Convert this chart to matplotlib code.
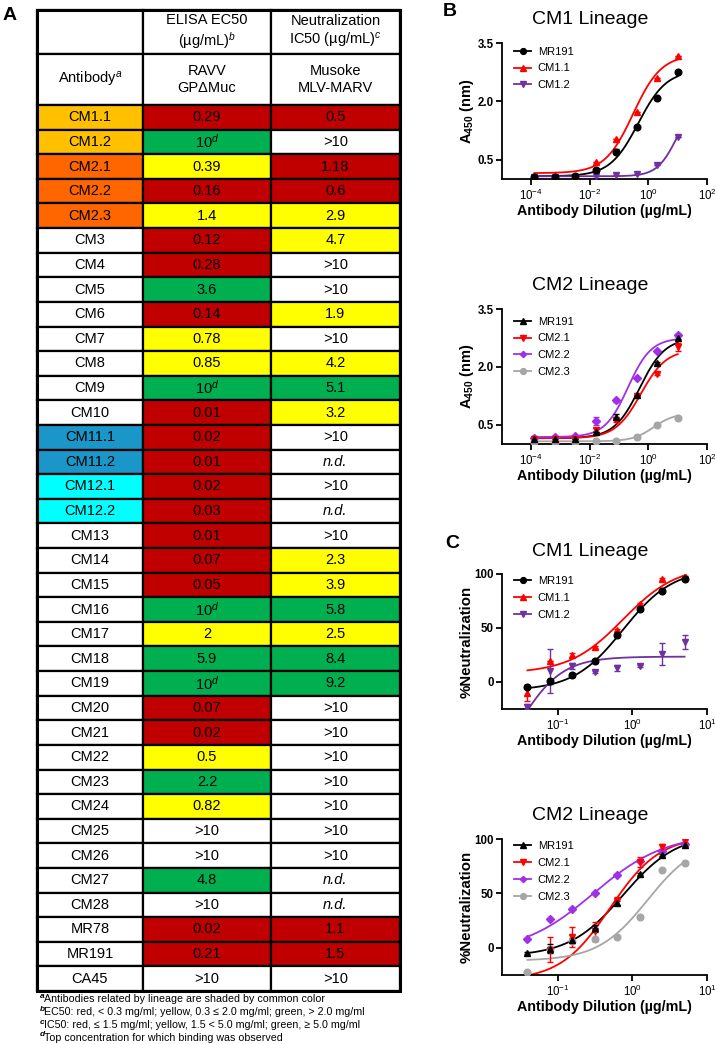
import numpy as np
import matplotlib
matplotlib.use("Agg")
import matplotlib.pyplot as plt
from matplotlib.patches import Rectangle
from matplotlib.lines import Line2D
from matplotlib.ticker import NullLocator

plt.rcParams["font.family"] = ["Liberation Sans", "DejaVu Sans"]
plt.rcParams["mathtext.fontset"] = "custom"
plt.rcParams["mathtext.rm"] = "Liberation Sans"
plt.rcParams["mathtext.it"] = "Liberation Sans:italic"
plt.rcParams["mathtext.bf"] = "Liberation Sans:bold"
plt.rcParams["mathtext.default"] = "bf"

# ---- table data (panel A) ----
names = ["CM1.1", "CM1.2", "CM2.1", "CM2.2", "CM2.3", "CM3", "CM4", "CM5", "CM6", "CM7",
         "CM8", "CM9", "CM10", "CM11.1", "CM11.2", "CM12.1", "CM12.2", "CM13", "CM14", "CM15",
         "CM16", "CM17", "CM18", "CM19", "CM20", "CM21", "CM22", "CM23", "CM24", "CM25",
         "CM26", "CM27", "CM28", "MR78", "MR191", "CA45"]
elisa_ec50 = ["0.29", "10d", "0.39", "0.16", "1.4", "0.12", "0.28", "3.6", "0.14", "0.78",
              "0.85", "10d", "0.01", "0.02", "0.01", "0.02", "0.03", "0.01", "0.07", "0.05",
              "10d", "2", "5.9", "10d", "0.07", "0.02", "0.5", "2.2", "0.82", ">10",
              ">10", "4.8", ">10", "0.02", "0.21", ">10"]
neut_ic50 = ["0.5", ">10", "1.18", "0.6", "2.9", "4.7", ">10", ">10", "1.9", ">10",
             "4.2", "5.1", "3.2", ">10", "n.d.", ">10", "n.d.", ">10", "2.3", "3.9",
             "5.8", "2.5", "8.4", "9.2", ">10", ">10", ">10", ">10", ">10", ">10",
             ">10", "n.d.", "n.d.", "1.1", "1.5", ">10"]
lineage_colors = {"CM1.": "#FFC000", "CM2.": "#FF6600", "CM11.": "#1A96C8", "CM12.": "#00FFFF"}
footnotes = [("a", "Antibodies related by lineage are shaded by common color"),
             ("b", "EC50: red, < 0.3 mg/ml; yellow, 0.3 ≤ 2.0 mg/ml; green, > 2.0 mg/ml"),
             ("c", "IC50: red, ≤ 1.5 mg/ml; yellow, 1.5 < 5.0 mg/ml; green, ≥ 5.0 mg/ml"),
             ("d", "Top concentration for which binding was observed")]

RED, YELLOW, GREEN = "#C00000", "#FFFF00", "#00B050"

# ---- dose-response data (panels B and C) ----
elisa_conc = [0.000128, 0.00064, 0.0032, 0.016, 0.08, 0.4, 2.0, 10.0]
neut_conc = [0.039, 0.078, 0.156, 0.3125, 0.625, 1.25, 2.5, 5.0]

cm1_labels = ["MR191", "CM1.1", "CM1.2"]
cm1_colors = ["black", "#FF0000", "#7030A0"]
cm1_markers = ["o", "^", "v"]
cm2_labels = ["MR191", "CM2.1", "CM2.2", "CM2.3"]
cm2_colors = ["black", "#FF0000", "#A030E8", "#A6A6A6"]
cm2_markers = ["^", "v", "D", "o"]

elisa_cm1 = [[0.05, 0.05, 0.08, 0.24, 0.70, 1.34, 2.09, 2.76],
             [0.06, 0.06, 0.09, 0.45, 1.02, 1.73, 2.59, 3.16],
             [0.05, 0.05, 0.05, 0.08, 0.11, 0.14, 0.37, 1.09]]
elisa_cm1_err = [[0, 0, 0, 0.02, 0.06, 0.03, 0.03, 0.03],
                 [0, 0, 0, 0, 0, 0, 0, 0],
                 [0, 0, 0, 0, 0, 0, 0, 0]]
elisa_cm1_fit = [(0.07, 2.8, 0.45, 0.9), (0.15, 3.2, 0.3, 0.9), (0.07, 2.0, 9.0, 1.3)]

elisa_cm2 = [[0.12, 0.12, 0.14, 0.31, 0.70, 1.28, 2.10, 2.75],
             [0.12, 0.12, 0.13, 0.37, 0.62, 1.25, 1.82, 2.52],
             [0.15, 0.17, 0.21, 0.60, 1.13, 1.71, 2.41, 2.82],
             [0.05, 0.05, 0.06, 0.07, 0.08, 0.18, 0.48, 0.68]]
elisa_cm2_err = [[0, 0, 0, 0, 0.08, 0, 0.03, 0.04],
                 [0, 0, 0, 0.05, 0.05, 0, 0.03, 0.11],
                 [0, 0, 0, 0.11, 0.03, 0, 0.03, 0.03],
                 [0, 0, 0, 0, 0, 0, 0, 0]]
elisa_cm2_fit = [(0.15, 2.75, 0.5, 1.0), (0.15, 2.45, 0.55, 1.0),
                 (0.18, 2.75, 0.2, 1.1), (0.07, 0.8, 1.5, 1.2)]

neut_cm1 = [[-4.3, 0.6, 6.4, 19.6, 43.3, 67.8, 84.7, 95.4],
            [-10.4, 19.3, 24.8, 32.5, 48.5, 72.4, 95.0, 98.0],
            [-22.7, 10.1, 14.7, 9.5, 12.9, 14.7, 26.0, 37.0]]
neut_cm1_err = [[1.5, 2, 1.5, 2, 2, 1.5, 1, 1],
                [7, 0, 2, 1, 1, 1, 1, 0],
                [2, 20, 3, 1, 3, 1, 10, 6.7]]
neut_cm1_fit = [(-8, 105, 0.75, 1.3), (8, 108, 0.75, 1.2), (-100, 23.5, 0.03, 1.5)]

neut_cm2 = [[-4.6, -0.9, 7.0, 17.8, 41.4, 67.9, 85.0, 94.8],
            [np.nan, -2.0, 10.0, 15.0, 43.0, 79.0, 93.0, 98.0],
            [7.7, 26.4, 35.6, 50.0, 66.7, 80.0, 88.7, 95.7],
            [-22.0, -1.0, 6.0, 7.7, 9.5, 28.5, 71.9, 78.0]]
neut_cm2_err = [[1, 4, 2, 3, 2, 1, 1, 1],
                [0, 11.5, 9.5, 9, 4, 4.6, 2, 1],
                [0, 0, 0, 0, 0, 0, 0, 0],
                [0, 0, 0, 0, 0, 0, 0, 0]]
neut_cm2_fit = [(-8, 105, 0.75, 1.2), (-30, 103, 0.5, 1.3),
                (-5, 105, 0.3, 0.9), (-12, 100, 1.6, 1.3)]


def logistic(x, bottom, top, ec50, hill):
    return bottom + (top - bottom) / (1 + (ec50 / x) ** hill)


def ec50_color(s):
    if s.startswith(">"):
        return "white"
    v = float(s.rstrip("d"))
    if v < 0.3:
        return RED
    if v <= 2.0:
        return YELLOW
    return GREEN


def ic50_color(s):
    if s.startswith(">") or s == "n.d.":
        return "white"
    v = float(s)
    if v <= 1.5:
        return RED
    if v < 5.0:
        return YELLOW
    return GREEN


def cell_text(s):
    if s.endswith("d"):
        return s[:-1] + r"$^{\mathit{d}}$"
    return s


W, H = 715, 1044
fig = plt.figure(figsize=(W / 100, H / 100), dpi=100)


def px_axes(l, t, r, b):
    return fig.add_axes([l / W, 1 - b / H, (r - l) / W, (b - t) / H])


# ---------------- panel A: table ----------------
col_x = [37, 143, 271, 400]
head_y = [10, 54, 105]
tab_bottom = 991
row_h = (tab_bottom - head_y[2]) / len(names)

tax = px_axes(col_x[0], head_y[0], col_x[-1], tab_bottom)
tax.set_xlim(col_x[0], col_x[-1])
tax.set_ylim(tab_bottom, head_y[0])
tax.axis("off")

fs = 10.5
lw = 1.6


def cell(ax, c, y0, y1, color, text, style="normal"):
    ax.add_patch(Rectangle((col_x[c], y0), col_x[c + 1] - col_x[c], y1 - y0,
                           facecolor=color, edgecolor="black", lw=lw, clip_on=False))
    ax.text((col_x[c] + col_x[c + 1]) / 2, (y0 + y1) / 2, text, ha="center", va="center",
            fontsize=fs, style=style, linespacing=1.25)


head1 = ["", "ELISA EC50\n(µg/mL)$^{\\mathit{b}}$", "Neutralization\nIC50 (µg/mL)$^{\\mathit{c}}$"]
head2 = ["Antibody$^{\\mathit{a}}$", "RAVV\nGPΔMuc", "Musoke\nMLV-MARV"]
for c in range(3):
    cell(tax, c, head_y[0], head_y[1], "white", head1[c])
    cell(tax, c, head_y[1], head_y[2], "white", head2[c])

for i, name in enumerate(names):
    y0 = head_y[2] + i * row_h
    y1 = y0 + row_h
    ncol = "white"
    for pre, col in lineage_colors.items():
        if name.startswith(pre):
            ncol = col
    cell(tax, 0, y0, y1, ncol, name)
    cell(tax, 1, y0, y1, ec50_color(elisa_ec50[i]), cell_text(elisa_ec50[i]))
    ic = neut_ic50[i]
    cell(tax, 2, y0, y1, ic50_color(ic), ic, style="italic" if ic == "n.d." else "normal")

tax.add_patch(Rectangle((col_x[0], head_y[0]), col_x[-1] - col_x[0], tab_bottom - head_y[0],
                        facecolor="none", edgecolor="black", lw=2.2, clip_on=False))

for k, (sup, txt) in enumerate(footnotes):
    y = 999.5 + k * 12.8
    fig.text(40 / W, 1 - (y - 3) / H, sup, fontsize=6, style="italic", weight="bold",
             ha="left", va="center")
    fig.text(44.5 / W, 1 - y / H, txt, fontsize=7.7, ha="left", va="center")

# ---------------- panels B and C ----------------
ax_l, ax_r = 502, 707


def draw_panel(t, b, conc, labels, colors, markers, vals, errs, fits, kind, title, leg_y):
    ax = px_axes(ax_l, t, ax_r, b)
    ax.set_xscale("log")
    for i in reversed(range(len(labels))):
        x = np.array(conc)
        y = np.array(vals[i], dtype=float)
        e = np.array(errs[i], dtype=float)
        xs = np.logspace(np.log10(x[0]), np.log10(x[-1]), 300)
        ax.plot(xs, logistic(xs, *fits[i]), color=colors[i], lw=1.3, zorder=2 + i * 0.01)
        ax.errorbar(x, y, yerr=e, fmt="none", ecolor=colors[i], elinewidth=1.0,
                    capsize=2.2, capthick=1.0, zorder=3)
        ms = 3.6 if markers[i] == "D" else 4.8
        ax.plot(x, y, ls="none", marker=markers[i], color=colors[i], ms=ms, zorder=4)
    for s in ["top", "right"]:
        ax.spines[s].set_visible(False)
    for s in ["left", "bottom"]:
        ax.spines[s].set_linewidth(1.3)
    ax.tick_params(width=1.3, length=4, labelsize=8.3, pad=2)
    if kind == "elisa":
        ax.set_xlim(1e-5, 1e2)
        ax.set_xticks([1e-4, 1e-2, 1, 1e2])
        ax.set_ylim(0, 3.5)
        ax.set_yticks([0.5, 2.0, 3.5])
        ax.set_yticklabels(["0.5", "2.0", "3.5"], fontweight="bold")
        ylab = "A$_{450}$ (nm)"
        ylab_fs = 10.5
    else:
        ax.set_xlim(10 ** -1.75, 10)
        ax.set_xticks([0.1, 1, 10])
        ax.set_ylim(-25, 100)
        ax.set_yticks([0, 50, 100])
        ax.set_yticklabels(["0", "50", "100"], fontweight="bold")
        ylab = "%Neutralization"
        ylab_fs = 10.8
    ax.xaxis.set_minor_locator(NullLocator())
    handles = [Line2D([], [], color=colors[i], marker=markers[i], lw=1.3,
                      ms=3.2 if markers[i] == "D" else 4.2) for i in range(len(labels))]
    ax.legend(handles, labels, loc="upper left", bbox_to_anchor=(0.06, leg_y), frameon=False,
              fontsize=8, handlelength=1.5, handletextpad=0.6, labelspacing=0.62,
              borderpad=0, borderaxespad=0)
    fig.text(590 / W, 1 - (t - 23) / H, title, fontsize=14, ha="center", va="center")
    fig.text(467 / W, 1 - ((t + b) / 2) / H, ylab, fontsize=ylab_fs, weight="bold",
             rotation=90, ha="center", va="center")
    fig.text(604 / W, 1 - (b + 32) / H, "Antibody Dilution (µg/mL)", fontsize=10.3,
             weight="bold", ha="center", va="center")
    return ax


draw_panel(43, 179, elisa_conc, cm1_labels, cm1_colors, cm1_markers,
           elisa_cm1, elisa_cm1_err, elisa_cm1_fit, "elisa", "CM1 Lineage", 0.974)
draw_panel(309, 444, elisa_conc, cm2_labels, cm2_colors, cm2_markers,
           elisa_cm2, elisa_cm2_err, elisa_cm2_fit, "elisa", "CM2 Lineage", 0.944)
draw_panel(574, 709, neut_conc, cm1_labels, cm1_colors, cm1_markers,
           neut_cm1, neut_cm1_err, neut_cm1_fit, "neut", "CM1 Lineage", 0.985)
draw_panel(839, 975, neut_conc, cm2_labels, cm2_colors, cm2_markers,
           neut_cm2, neut_cm2_err, neut_cm2_fit, "neut", "CM2 Lineage", 0.985)

# panel letters
fig.text(10 / W, 1 - 15 / H, "A", fontsize=14, weight="bold", ha="center", va="center")
fig.text(450 / W, 1 - 12 / H, "B", fontsize=14, weight="bold", ha="center", va="center")
fig.text(452 / W, 1 - 543 / H, "C", fontsize=14, weight="bold", ha="center", va="center")

fig.savefig("out.png", dpi=100)
